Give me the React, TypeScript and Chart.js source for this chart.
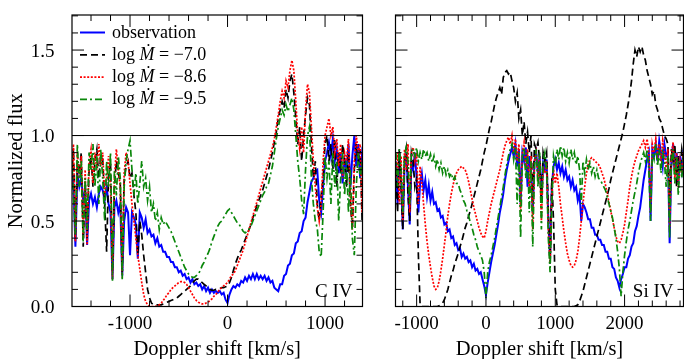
import React, { useEffect, useRef } from "react";
import { Chart, registerables } from "chart.js";

Chart.register(...registerables);

// ---------------- Data: C IV panel (velocity grid -1600 .. 1400 km/s, step 20) ----------------
const civVelocityStart = -1600;
const civVelocityStep = 20;

const civObservation = [
  0.80, 0.72, 0.35, 0.78, 0.70, 0.75, 0.62, 0.68, 0.36, 0.62,
  0.66, 0.60, 0.64, 0.58, 0.66, 0.70, 0.68, 0.62, 0.70, 0.60,
  0.55, 0.16, 0.58, 0.62, 0.55, 0.60, 0.18, 0.50, 0.58, 0.55,
  0.30, 0.55, 0.52, 0.48, 0.28, 0.55, 0.52, 0.46, 0.51, 0.43,
  0.45, 0.41, 0.42, 0.37, 0.40, 0.35, 0.36, 0.32, 0.32, 0.29,
  0.29, 0.26, 0.26, 0.23, 0.23, 0.20, 0.21, 0.18, 0.19, 0.16,
  0.17, 0.14, 0.16, 0.13, 0.14, 0.12, 0.13, 0.10, 0.12, 0.09,
  0.11, 0.08, 0.10, 0.08, 0.09, 0.08, 0.09, 0.07, 0.08, 0.04,
  0.02, 0.07, 0.10, 0.12, 0.11, 0.13, 0.12, 0.15, 0.14, 0.17,
  0.15, 0.18, 0.16, 0.19, 0.16, 0.19, 0.16, 0.18, 0.16, 0.18,
  0.15, 0.17, 0.14, 0.15, 0.11, 0.10, 0.09, 0.13, 0.13, 0.18,
  0.19, 0.24, 0.25, 0.30, 0.31, 0.37, 0.38, 0.43, 0.44, 0.50,
  0.52, 0.61, 0.67, 0.73, 0.75, 0.79, 0.80, 0.62, 0.55, 0.70,
  0.85, 0.90, 0.96, 0.88, 0.98, 0.85, 0.92, 0.78, 0.90, 0.72,
  0.86, 0.80, 0.95, 0.70, 0.88, 1.00, 0.82, 0.95, 0.75, 0.90,
  0.85,
];

const civModelM70 = [
  0.75, 0.92, 0.40, 0.85, 0.78, 0.90, 0.35, 0.70, 0.40, 0.80,
  0.88, 0.70, 0.85, 0.92, 0.75, 0.88, 0.86, 0.60, 0.32, 0.78,
  0.85, 0.20, 0.70, 0.85, 0.78, 0.72, 0.20, 0.75, 0.82, 0.85,
  0.75, 0.78, 0.65, 0.55, 0.30, 0.50, 0.42, 0.30, 0.20, 0.10,
  0.05, 0.02, 0.01, 0.01, 0.01, 0.01, 0.01, 0.015, 0.02, 0.025,
  0.03, 0.035, 0.04, 0.045, 0.05, 0.06, 0.07, 0.08, 0.09, 0.10,
  0.11, 0.12, 0.135, 0.15, 0.16, 0.16, 0.15, 0.14, 0.13, 0.12,
  0.11, 0.10, 0.095, 0.095, 0.10, 0.10, 0.105, 0.11, 0.11, 0.115,
  0.12, 0.14, 0.17, 0.21, 0.25, 0.28, 0.31, 0.33, 0.36, 0.39,
  0.42, 0.45, 0.48, 0.52, 0.55, 0.59, 0.62, 0.65, 0.68, 0.72,
  0.76, 0.80, 0.85, 0.90, 0.96, 1.02, 1.10, 1.15, 1.20, 1.16,
  1.27, 1.22, 1.32, 1.36, 1.25, 1.10, 0.95, 1.05, 0.85, 1.00,
  1.12, 1.22, 1.18, 0.95, 0.75, 0.85, 0.60, 0.50, 0.65, 0.75,
  0.95, 1.00, 0.85, 0.95, 0.80, 0.98, 0.70, 0.90, 0.78, 0.95,
  0.85, 0.70, 0.90, 0.60, 0.45, 0.80, 0.95, 0.85, 0.92, 0.50,
  0.80,
];

const civModelM86 = [
  0.70, 0.95, 0.38, 0.90, 0.75, 0.88, 0.40, 0.80, 0.36, 0.85,
  0.92, 0.72, 0.90, 0.80, 0.95, 0.82, 0.90, 0.65, 0.75, 0.88,
  0.70, 0.16, 0.75, 0.92, 0.80, 0.70, 0.17, 0.78, 0.90, 0.85,
  0.72, 0.60, 0.50, 0.40, 0.30, 0.22, 0.14, 0.07, 0.03, 0.01,
  0.0, 0.0, 0.0, 0.0, 0.005, 0.01, 0.02, 0.035, 0.05, 0.07,
  0.08, 0.10, 0.11, 0.12, 0.13, 0.14, 0.145, 0.145, 0.14, 0.13,
  0.11, 0.09, 0.07, 0.05, 0.035, 0.025, 0.02, 0.015, 0.015, 0.02,
  0.025, 0.035, 0.045, 0.06, 0.07, 0.085, 0.10, 0.11, 0.12, 0.13,
  0.14, 0.16, 0.18, 0.19, 0.21, 0.24, 0.27, 0.30, 0.33, 0.37,
  0.41, 0.45, 0.49, 0.53, 0.57, 0.61, 0.65, 0.69, 0.73, 0.77,
  0.81, 0.85, 0.89, 0.93, 0.98, 1.05, 1.12, 1.20, 1.26, 1.22,
  1.32, 1.28, 1.38, 1.44, 1.38, 1.20, 1.00, 0.92, 1.05, 0.90,
  1.15, 1.30, 1.25, 1.05, 0.85, 0.70, 0.58, 0.50, 0.60, 0.85,
  1.00, 1.05, 1.10, 1.00, 1.05, 0.90, 0.98, 0.82, 0.95, 0.75,
  0.90, 0.85, 0.98, 0.65, 0.45, 0.85, 1.00, 0.90, 0.95, 0.55,
  0.85,
];

const civModelM95 = [
  0.90, 0.65, 0.42, 0.95, 0.70, 0.85, 0.38, 0.75, 0.45, 0.90,
  0.80, 0.95, 0.70, 0.88, 0.60, 0.92, 0.75, 0.50, 0.85, 0.70,
  0.90, 0.15, 0.80, 0.65, 0.88, 0.75, 0.16, 0.70, 0.85, 0.92,
  0.97, 0.80, 0.65, 0.78, 0.60, 0.72, 0.85, 0.70, 0.75, 0.62,
  0.70, 0.55, 0.60, 0.50, 0.55, 0.45, 0.52, 0.48, 0.50, 0.48,
  0.46, 0.44, 0.41, 0.38, 0.35, 0.32, 0.29, 0.26, 0.23, 0.21,
  0.19, 0.18, 0.17, 0.17, 0.18, 0.19, 0.21, 0.24, 0.26, 0.29,
  0.31, 0.34, 0.38, 0.41, 0.44, 0.47, 0.49, 0.50, 0.52, 0.54,
  0.56, 0.57, 0.55, 0.53, 0.51, 0.49, 0.48, 0.46, 0.44, 0.43,
  0.44, 0.45, 0.47, 0.50, 0.53, 0.56, 0.59, 0.62, 0.65, 0.67,
  0.70, 0.72, 0.77, 0.82, 0.90, 0.98, 1.05, 1.10, 1.15, 1.12,
  1.18, 1.14, 1.18, 1.22, 1.15, 1.00, 0.85, 0.75, 0.62, 0.54,
  0.80, 1.00, 1.05, 0.75, 0.60, 0.50, 0.46, 0.32, 0.29, 0.55,
  0.88, 0.75, 0.85, 0.60, 0.90, 0.70, 0.85, 0.50, 0.75, 0.90,
  0.65, 0.85, 0.55, 0.80, 0.40, 0.30, 0.70, 0.90, 0.75, 0.85,
  0.60,
];

// ---------------- Data: Si IV panel (velocity grid -1300 .. 2850 km/s, step 25) ----------------
const siivVelocityStart = -1300;
const siivVelocityStep = 25;

const siivObservation = [
  0.85, 0.60, 0.90, 0.75, 0.45, 0.82, 0.90, 0.70, 0.48, 0.85,
  0.80, 0.90, 0.75, 0.55, 0.72, 0.78, 0.68, 0.74, 0.64, 0.71,
  0.62, 0.67, 0.60, 0.61, 0.56, 0.57, 0.52, 0.53, 0.48, 0.49,
  0.44, 0.45, 0.40, 0.41, 0.36, 0.37, 0.33, 0.34, 0.29, 0.31,
  0.28, 0.29, 0.26, 0.27, 0.23, 0.25, 0.21, 0.22, 0.19, 0.20,
  0.16, 0.12, 0.07, 0.14, 0.20, 0.26, 0.31, 0.36, 0.42, 0.48,
  0.55, 0.60, 0.66, 0.74, 0.80, 0.85, 0.89, 0.93, 0.88, 0.95,
  0.82, 0.92, 0.60, 0.90, 0.85, 0.93, 0.70, 0.88, 0.80, 0.55,
  0.85, 0.90, 0.78, 0.88, 0.62, 0.84, 0.80, 0.86, 0.50, 0.28,
  0.70, 0.82, 0.86, 0.80, 0.84, 0.78, 0.82, 0.76, 0.80, 0.74,
  0.76, 0.70, 0.74, 0.68, 0.70, 0.62, 0.66, 0.50, 0.60, 0.58,
  0.55, 0.51, 0.51, 0.46, 0.46, 0.42, 0.42, 0.39, 0.39, 0.36,
  0.36, 0.32, 0.32, 0.28, 0.28, 0.23, 0.22, 0.17, 0.15, 0.11,
  0.16, 0.19, 0.23, 0.23, 0.28, 0.30, 0.35, 0.37, 0.44, 0.47,
  0.53, 0.58, 0.66, 0.74, 0.80, 0.86, 0.90, 0.50, 0.92, 0.88,
  0.95, 0.85, 0.97, 0.90, 0.82, 0.95, 0.88, 0.90, 0.37, 0.85,
  0.95, 0.80, 0.90, 0.72, 0.88, 0.80, 0.92,
];

const siivModelM70 = [
  0.80, 0.55, 0.92, 0.70, 0.45, 0.88, 0.93, 0.65, 0.50, 0.90,
  0.85, 0.70, 0.75, 0.30, 0.01, 0.0, 0.0, 0.0, 0.0, 0.0,
  0.0, 0.0, 0.0, 0.0, 0.0, 0.005, 0.01, 0.02, 0.04, 0.07,
  0.10, 0.14, 0.18, 0.21, 0.25, 0.28, 0.31, 0.35, 0.38, 0.42,
  0.46, 0.49, 0.53, 0.56, 0.60, 0.64, 0.68, 0.72, 0.76, 0.80,
  0.85, 0.90, 0.94, 0.99, 1.04, 1.08, 1.13, 1.18, 1.22, 1.25,
  1.28, 1.24, 1.34, 1.37, 1.38, 1.36, 1.37, 1.32, 1.28, 1.20,
  1.25, 1.10, 1.15, 1.00, 1.08, 0.95, 1.02, 0.90, 1.00, 0.60,
  0.95, 0.92, 0.96, 0.85, 0.60, 0.90, 0.85, 0.90, 0.55, 0.25,
  0.75, 0.50, 0.10, 0.01, 0.0, 0.0, 0.0, 0.0, 0.0, 0.0,
  0.0, 0.0, 0.0, 0.0, 0.005, 0.01, 0.03, 0.06, 0.09, 0.13,
  0.17, 0.21, 0.25, 0.29, 0.33, 0.37, 0.41, 0.45, 0.49, 0.53,
  0.57, 0.61, 0.65, 0.69, 0.74, 0.78, 0.82, 0.86, 0.90, 0.94,
  0.98, 1.02, 1.07, 1.12, 1.18, 1.24, 1.32, 1.42, 1.50, 1.46,
  1.52, 1.49, 1.52, 1.47, 1.44, 1.38, 1.34, 1.30, 1.24, 1.26,
  1.18, 1.15, 1.10, 1.08, 1.04, 1.00, 0.98, 0.95, 0.60, 0.92,
  0.85, 0.95, 0.70, 0.88, 0.80, 0.92, 0.85,
];

const siivModelM86 = [
  0.75, 0.90, 0.60, 0.88, 0.50, 0.92, 0.80, 0.95, 0.55, 0.90,
  0.93, 0.85, 0.90, 0.60, 0.82, 0.72, 0.60, 0.48, 0.38, 0.30,
  0.23, 0.17, 0.12, 0.10, 0.11, 0.15, 0.21, 0.28, 0.36, 0.44,
  0.53, 0.60, 0.66, 0.71, 0.75, 0.78, 0.80, 0.81, 0.82, 0.81,
  0.80, 0.77, 0.73, 0.68, 0.63, 0.58, 0.54, 0.50, 0.46, 0.43,
  0.41, 0.40, 0.44, 0.50, 0.55, 0.60, 0.64, 0.68, 0.72, 0.76,
  0.80, 0.85, 0.90, 0.94, 0.97, 0.99, 0.95, 1.00, 0.90, 0.98,
  0.85, 0.95, 0.55, 0.90, 0.96, 0.80, 0.92, 0.70, 0.88, 0.45,
  0.85, 0.90, 0.75, 0.88, 0.50, 0.82, 0.78, 0.85, 0.45, 0.25,
  0.65, 0.80, 0.72, 0.78, 0.70, 0.60, 0.52, 0.44, 0.37, 0.31,
  0.27, 0.24, 0.23, 0.24, 0.27, 0.32, 0.40, 0.50, 0.60, 0.70,
  0.78, 0.83, 0.86, 0.87, 0.86, 0.85, 0.84, 0.83, 0.81, 0.78,
  0.75, 0.71, 0.66, 0.61, 0.56, 0.51, 0.46, 0.41, 0.38, 0.37,
  0.39, 0.43, 0.48, 0.55, 0.62, 0.70, 0.76, 0.81, 0.85, 0.88,
  0.91, 0.93, 0.95, 0.97, 0.93, 0.98, 0.90, 0.55, 0.95, 0.90,
  0.98, 0.88, 0.95, 0.85, 0.97, 0.90, 0.80, 0.92, 0.45, 0.88,
  0.96, 0.75, 0.90, 0.70, 0.85, 0.78, 0.90,
];

const siivModelM95 = [
  0.90, 0.70, 0.92, 0.80, 0.55, 0.88, 0.93, 0.85, 0.60, 0.90,
  0.92, 0.88, 0.93, 0.85, 0.90, 0.86, 0.92, 0.88, 0.90, 0.85,
  0.89, 0.84, 0.88, 0.82, 0.86, 0.80, 0.84, 0.78, 0.82, 0.77,
  0.80, 0.76, 0.78, 0.74, 0.76, 0.72, 0.72, 0.68, 0.66, 0.62,
  0.60, 0.56, 0.53, 0.49, 0.46, 0.42, 0.39, 0.35, 0.32, 0.30,
  0.27, 0.20, 0.05, 0.20, 0.26, 0.30, 0.35, 0.40, 0.46, 0.52,
  0.58, 0.64, 0.70, 0.77, 0.83, 0.88, 0.92, 0.95, 0.86, 0.93,
  0.60, 0.90, 0.40, 0.88, 0.93, 0.75, 0.90, 0.55, 0.85, 0.35,
  0.82, 0.92, 0.70, 0.90, 0.45, 0.85, 0.90, 0.80, 0.40, 0.20,
  0.60, 0.88, 0.82, 0.92, 0.86, 0.94, 0.88, 0.93, 0.85, 0.90,
  0.84, 0.92, 0.86, 0.90, 0.83, 0.88, 0.80, 0.60, 0.85, 0.78,
  0.86, 0.80, 0.84, 0.78, 0.82, 0.76, 0.80, 0.75, 0.74, 0.72,
  0.70, 0.68, 0.64, 0.60, 0.56, 0.52, 0.46, 0.40, 0.32, 0.22,
  0.06, 0.20, 0.30, 0.38, 0.45, 0.50, 0.56, 0.62, 0.67, 0.72,
  0.78, 0.83, 0.87, 0.90, 0.85, 0.92, 0.80, 0.50, 0.90, 0.86,
  0.95, 0.82, 0.92, 0.78, 0.90, 0.85, 0.70, 0.88, 0.40, 0.85,
  0.92, 0.72, 0.88, 0.65, 0.85, 0.75, 0.88,
];

// ---------------- Labels / ticks ----------------
const seriesLabels = ["observation", "log Ṁ = −7.0", "log Ṁ = −8.6", "log Ṁ = −9.5"];
const civXTickLabels = [-1000, 0, 1000];
const siivXTickLabels = [-1000, 0, 1000, 2000];
const fluxTickLabels = [0.0, 0.5, 1.0, 1.5];
const xAxisTitle = "Doppler shift [km/s]";
const yAxisTitle = "Normalized flux";

// ---------------- Styles ----------------
const SERIF = "'Liberation Serif', 'Times New Roman', 'DejaVu Serif', serif";
const STYLES = [
  { color: "#0000ff", width: 2, dash: [] as number[] },
  { color: "#000000", width: 1.7, dash: [7, 4] },
  { color: "#ff0000", width: 1.7, dash: [2, 1.6] },
  { color: "#0a870a", width: 1.7, dash: [7, 3, 2, 3] },
];

const Y_MAX = 1.705;

function toPoints(start: number, step: number, values: number[]) {
  return values.map((y, i) => ({ x: start + step * i, y }));
}

function axesPlugin(panel: any) {
  return {
    id: "customAxes" + panel.name,
    afterDatasetsDraw(chart: any) {
      const { ctx, chartArea: a, scales } = chart;
      const y1 = scales.y.getPixelForValue(1);
      ctx.save();
      ctx.strokeStyle = "#000";
      ctx.lineWidth = 1;
      ctx.setLineDash([]);
      ctx.beginPath();
      ctx.moveTo(a.left, y1);
      ctx.lineTo(a.right, y1);
      ctx.stroke();
      ctx.restore();
    },
    afterDraw(chart: any) {
      const { ctx, chartArea: a } = chart;
      const xs = chart.scales.x;
      const ys = chart.scales.y;
      ctx.save();
      ctx.setLineDash([]);
      ctx.strokeStyle = "#000";
      ctx.lineWidth = 1.2;
      ctx.strokeRect(a.left, a.top, a.right - a.left, a.bottom - a.top);

      ctx.lineWidth = 1;
      ctx.beginPath();
      for (let v = Math.ceil(xs.min / 200) * 200; v <= xs.max; v += 200) {
        const px = xs.getPixelForValue(v);
        const len = v % 1000 === 0 ? 12 : 6;
        ctx.moveTo(px, a.bottom);
        ctx.lineTo(px, a.bottom - len);
        ctx.moveTo(px, a.top);
        ctx.lineTo(px, a.top + len);
      }
      for (let k = 0; k <= 17; k++) {
        const py = ys.getPixelForValue(k / 10);
        const len = k % 5 === 0 ? 12 : 6;
        ctx.moveTo(a.left, py);
        ctx.lineTo(a.left + len, py);
        ctx.moveTo(a.right, py);
        ctx.lineTo(a.right - len, py);
      }
      ctx.stroke();

      ctx.fillStyle = "#000";
      ctx.font = `19px ${SERIF}`;
      ctx.textAlign = "center";
      ctx.textBaseline = "alphabetic";
      panel.xTicks.forEach((v: number) => {
        ctx.fillText(String(v), xs.getPixelForValue(v), a.bottom + 22);
      });

      if (panel.showY) {
        ctx.textAlign = "right";
        fluxTickLabels.forEach((f) => {
          ctx.fillText(f.toFixed(1), a.left - 17.5, ys.getPixelForValue(f) + 6.5);
        });
        ctx.save();
        ctx.font = `20.5px ${SERIF}`;
        ctx.textAlign = "center";
        ctx.translate(21.5, (a.top + a.bottom) / 2);
        ctx.rotate(-Math.PI / 2);
        ctx.fillText(yAxisTitle, 0, 0);
        ctx.restore();
      }

      ctx.font = `20.5px ${SERIF}`;
      ctx.textAlign = "center";
      ctx.fillText(xAxisTitle, (a.left + a.right) / 2, 355);

      ctx.font = `19px ${SERIF}`;
      ctx.textAlign = "right";
      ctx.fillText(panel.ion, a.right - 10, a.bottom - 9.5);

      if (panel.showLegend) {
        const x0 = a.left + 8;
        const x1 = a.left + 33;
        const tx = a.left + 40;
        STYLES.forEach((s, k) => {
          const y = a.top + 17.5 + k * 22.3;
          ctx.save();
          ctx.strokeStyle = s.color;
          ctx.lineWidth = s.width;
          ctx.setLineDash(s.dash);
          ctx.beginPath();
          ctx.moveTo(x0, y);
          ctx.lineTo(x1, y);
          ctx.stroke();
          ctx.restore();
          ctx.textAlign = "left";
          const by = y + 5;
          const label = seriesLabels[k];
          const parts = label.split("Ṁ");
          let x = tx;
          parts.forEach((p, j) => {
            if (j > 0) {
              ctx.font = `italic 18px ${SERIF}`;
              ctx.fillText("Ṁ", x, by);
              x += ctx.measureText("Ṁ").width;
            }
            ctx.font = `18px ${SERIF}`;
            ctx.fillText(p, x, by);
            x += ctx.measureText(p).width;
          });
        });
      }
      ctx.restore();
    },
  };
}

function makeConfig(panel: any): any {
  return {
    type: "line",
    data: {
      datasets: panel.series.map((vals: number[], k: number) => ({
        label: seriesLabels[k],
        data: toPoints(panel.start, panel.step, vals),
        borderColor: STYLES[k].color,
        borderWidth: STYLES[k].width,
        borderDash: STYLES[k].dash,
        pointRadius: 0,
        fill: false,
        tension: 0,
        order: 4 - k,
      })),
    },
    options: {
      animation: false,
      responsive: false,
      devicePixelRatio: 1,
      events: [],
      layout: { padding: panel.padding },
      plugins: { legend: { display: false }, tooltip: { enabled: false } },
      scales: {
        x: { type: "linear", min: panel.xMin, max: panel.xMax, display: false },
        y: { type: "linear", min: 0, max: Y_MAX, display: false },
      },
    },
    plugins: [axesPlugin(panel)],
  };
}

const civPanel = {
  name: "civ",
  ion: "C IV",
  start: civVelocityStart,
  step: civVelocityStep,
  series: [civObservation, civModelM70, civModelM86, civModelM95],
  xMin: -1595,
  xMax: 1384,
  xTicks: civXTickLabels,
  showY: true,
  showLegend: true,
  padding: { left: 72, right: 684 - 362.5, top: 15, bottom: 359 - 306.5 },
};

const siivPanel = {
  name: "siiv",
  ion: "Si IV",
  start: siivVelocityStart,
  step: siivVelocityStep,
  series: [siivObservation, siivModelM70, siivModelM86, siivModelM95],
  xMin: -1305,
  xMax: 2850,
  xTicks: siivXTickLabels,
  showY: false,
  showLegend: false,
  padding: { left: 395.5, right: 0.5, top: 15, bottom: 359 - 306.5 },
};

export default function App() {
  const leftRef = useRef<HTMLCanvasElement>(null);
  const rightRef = useRef<HTMLCanvasElement>(null);

  useEffect(() => {
    const c1 = new Chart(leftRef.current as HTMLCanvasElement, makeConfig(civPanel));
    const c2 = new Chart(rightRef.current as HTMLCanvasElement, makeConfig(siivPanel));
    return () => {
      c1.destroy();
      c2.destroy();
    };
  }, []);

  return (
    <div
      style={{
        position: "fixed",
        left: 0,
        top: 0,
        width: 684,
        height: 359,
        background: "#fff",
        overflow: "hidden",
      }}
    >
      <canvas ref={leftRef} width={684} height={359} style={{ position: "absolute", left: 0, top: 0 }} />
      <canvas ref={rightRef} width={684} height={359} style={{ position: "absolute", left: 0, top: 0 }} />
    </div>
  );
}
